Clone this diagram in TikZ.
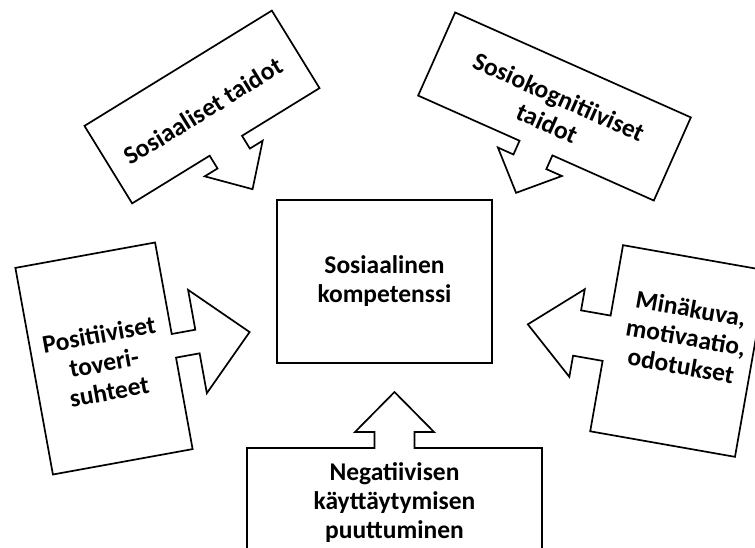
\documentclass[tikz,border=0pt]{standalone}
\usepackage{fontspec}
\setmainfont{Carlito}
\tikzset{
  shapeline/.style={draw=black, line width=1.7pt, fill=white, line join=miter},
  lbl/.style={font=\fontsize{25.5}{29}\selectfont\bfseries, align=center, inner sep=0pt},
}
% #1 W (along arrow side), #2 H, #3 stem width, #4 head width, #5 stem length, #6 head length
\newcommand\mycallout[6]{%
  \draw[shapeline] (-#1/2,-#2/2) -- (#1/2,-#2/2) -- (#1/2,#2/2) -- (#3/2,#2/2)
    -- (#3/2,#2/2+#5) -- (#4/2,#2/2+#5) -- (0,#2/2+#5+#6) -- (-#4/2,#2/2+#5)
    -- (-#3/2,#2/2+#5) -- (-#3/2,#2/2) -- (-#1/2,#2/2) -- cycle;}
\begin{document}
\begin{tikzpicture}[x=1pt,y=-1pt]
\useasboundingbox (0,0) rectangle (755,548);
\fill[white] (0,0) rectangle (755,548);
\clip (0,0) rectangle (755,548);

% central box
\node[draw=black, line width=1.7pt, minimum width=215pt, minimum height=163pt,
      lbl] (comp) at (384.5,281.5) {Sosiaalinen\\kompetenssi};

% top-left callout
\begin{scope}[shift={(202,107)}, rotate=31.6]
  \mycallout{220}{91}{38}{68}{15}{36}
\end{scope}
\node[lbl, rotate=31.6] (taidot) at (203,111) {Sosiaaliset taidot};

% top-right callout
\begin{scope}[shift={(554.5,106.5)}, rotate=-24]
  \mycallout{258}{91}{36}{70}{15}{34}
\end{scope}
\node[lbl, rotate=-24] (kogn) at (553,110) {Sosiokognitiiviset\\taidot};

% left callout
\begin{scope}[shift={(104,358.5)}, rotate=100.3]
  \mycallout{210}{142}{24}{105}{24}{53}
\end{scope}
\node[lbl, rotate=10.3] (toveri) at (104,363) {Positiiviset\\toveri-\\suhteet};

% right callout
\begin{scope}[shift={(679,351)}, rotate=-100]
  \mycallout{189}{147}{46}{89}{30}{50}
\end{scope}
\node[lbl, rotate=-10] (mina) at (686,337) {Minäkuva,\\motivaatio,\\odotukset};

% bottom callout
\begin{scope}[shift={(394.5,502)}, rotate=180]
  \mycallout{295}{108}{40}{79}{16}{40}
\end{scope}
\node[lbl] (neg) at (394.5,503) {Negatiivisen\\käyttäytymisen\\puuttuminen};
\end{tikzpicture}
\end{document}
